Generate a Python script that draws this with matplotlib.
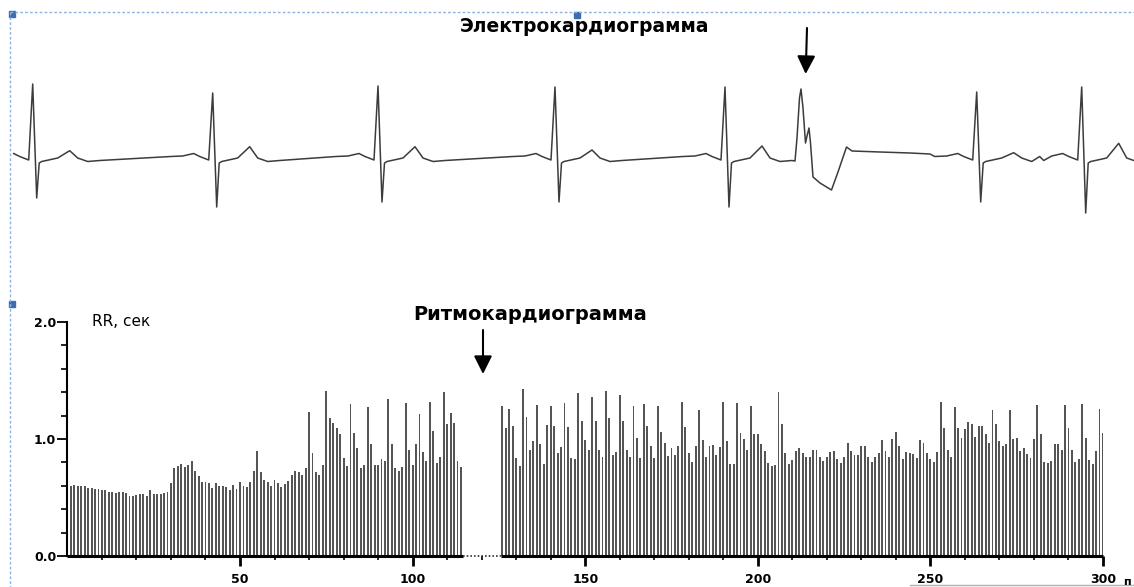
"""
ECG strip with an ectopic beat and the RR-interval rhythmogram below
"""
import numpy as np
import matplotlib
matplotlib.use('Agg')
import matplotlib.pyplot as plt
from matplotlib.lines import Line2D
from matplotlib.patches import Rectangle


### ECG trace (x in samples, amplitude in arbitrary units above baseline)
# template of one normal beat, dx relative to the R peak
beat_dx = [-42, -30, -19, -13, -4, 0, 4, 6.5, 9, 25, 37, 45, 55, 67]
beat_up = [1.5, 2, 4.5, 1.5, -2, 0, 0, -5, -3.5, 0, 0, 0, -3.5, -2.5]
R_I, S_I, T_I = 5, 6, 10          # template slots filled per beat

beat_x = [32.7, 212.7, 378, 555, 725, 976.7, 1081.7]
beat_r = [74, 65, 72, 71, 71, 66, 71]
beat_s = [-40, -49, -44, -44, -49, -44, -55]
beat_t = [7.3, 11.3, 11.3, 8, 12, 5.3, 14.7]

# ventricular extrasystole
ectopic_x = [795, 797, 799.5, 801, 803, 805.5, 807, 809, 810.5, 813, 820,
             831.5, 838, 846.5, 852, 880, 910, 930]
ectopic_up = [-3, 20, 60, 69, 50, 15, 22, 30, 15, -19, -25,
              -32, -14, 11, 7, 6, 5, 4]

### rhythmogram, RR [s]  (beats 1..114, gap, beats 126..300)
rr_before = [
    0.60, 0.61, 0.60, 0.60, 0.60, 0.585, 0.58, 0.57, 0.57, 0.56,
    0.56, 0.55, 0.55, 0.54, 0.545, 0.55, 0.54, 0.51, 0.51, 0.525,
    0.53, 0.53, 0.51, 0.56, 0.53, 0.53, 0.53, 0.54, 0.55, 0.62,
    0.755, 0.77, 0.79, 0.76, 0.78, 0.81, 0.73, 0.68, 0.63, 0.63,
    0.62, 0.585, 0.625, 0.60, 0.60, 0.59, 0.56, 0.605, 0.57, 0.635,
    0.60, 0.59, 0.635, 0.73, 0.90, 0.715, 0.65, 0.635, 0.60, 0.65,
    0.625, 0.59, 0.615, 0.64, 0.69, 0.73, 0.72, 0.69, 0.75, 1.23,
    0.88, 0.72, 0.69, 0.775, 1.41, 1.18, 1.14, 1.09, 1.04, 0.835,
    0.77, 1.30, 1.05, 0.92, 0.75, 0.775, 1.27, 0.96, 0.78, 0.78,
    0.83, 0.81, 1.34, 0.96, 0.75, 0.73, 0.76, 1.31, 0.91, 0.775,
    0.96, 1.21, 0.89, 0.81, 1.32, 1.065, 0.795, 0.845, 1.40, 1.13,
    1.22, 1.14, 0.81, 0.76,
]
rr_after_start = 126
rr_after = [
    1.28, 1.09, 1.26, 1.11, 0.84, 0.77, 1.43, 1.19, 0.91, 0.98,
    1.29, 0.955, 0.79, 1.12, 1.28, 1.11, 0.88, 0.93, 1.31, 1.10,
    0.84, 0.83, 1.39, 1.15, 0.99, 0.91, 1.36, 1.15, 0.91, 0.845,
    1.41, 1.18, 0.86, 0.89, 1.38, 1.15, 0.91, 0.845, 1.28, 1.01,
    0.84, 1.30, 1.11, 0.94, 0.84, 1.28, 1.06, 0.965, 0.855, 0.92,
    0.86, 0.94, 1.32, 1.10, 0.88, 0.80, 0.94, 1.25, 0.995, 0.845,
    0.94, 0.95, 0.86, 0.93, 1.32, 0.98, 0.785, 0.785, 1.31, 1.05,
    1.00, 0.91, 1.28, 1.045, 1.045, 0.96, 0.90, 0.795, 0.77, 0.775,
    1.40, 1.13, 0.88, 0.785, 0.82, 0.90, 0.92, 0.88, 0.85, 0.845,
    0.91, 0.91, 0.85, 0.81, 0.845, 0.89, 0.895, 0.83, 0.795, 0.85,
    0.965, 0.90, 0.865, 0.86, 0.94, 0.94, 0.845, 0.80, 0.845, 0.88,
    0.99, 0.895, 0.85, 1.00, 1.06, 0.94, 0.83, 0.89, 0.88, 0.87,
    0.84, 0.99, 0.97, 0.88, 0.83, 0.80, 0.89, 1.32, 1.09, 0.91,
    0.845, 1.27, 1.09, 1.01, 1.085, 1.145, 1.13, 1.02, 1.11, 1.11,
    1.04, 0.97, 1.25, 1.13, 0.985, 0.94, 0.96, 1.25, 1.00, 1.01,
    0.895, 0.92, 0.87, 0.84, 1.00, 1.29, 1.045, 0.80, 0.795, 0.81,
    0.96, 0.955, 0.91, 1.29, 1.09, 0.91, 0.80, 0.83, 1.30, 1.01,
    0.82, 0.79, 0.895, 1.26, 1.05,
]


### build ecg polyline
ex, ey = list(ectopic_x), list(ectopic_up)
for x0, r, s, t in zip(beat_x, beat_r, beat_s, beat_t):
    up = list(beat_up)
    up[R_I], up[S_I], up[T_I] = r, s, t
    ex += [x0 + d for d in beat_dx]
    ey += up
order = np.argsort(ex)
ecg_x = np.array(ex)[order]
ecg_y = np.array(ey)[order]


W, H = 1134, 587
fig = plt.figure(figsize=(W / 100, H / 100), dpi=100)

def fx(px):
    return px / W

def fy(py):
    return 1 - py / H


### top: ECG
ax1 = fig.add_axes([fx(13), fy(230), fx(1121), 190 / H])
ax1.plot(ecg_x, ecg_y, color='#3c3c3c', lw=1.1)
ax1.set_xlim(13, 1134)
ax1.set_ylim(-72, 118)
ax1.axis('off')

fig.text(fx(585), fy(26), 'Электрокардиограмма', ha='center', va='center',
         fontsize=13.5, fontweight='bold')
ax1.annotate('', xy=(805.7, H - 74), xytext=(807, H - 28),
             xycoords='figure pixels', textcoords='figure pixels',
             arrowprops=dict(arrowstyle='-|>,head_length=0.5,head_width=0.25',
                             mutation_scale=22, lw=1.5, color='black',
                             shrinkA=0, shrinkB=0))


### bottom: rhythmogram
idx1 = np.arange(1, len(rr_before) + 1)
idx2 = np.arange(rr_after_start, rr_after_start + len(rr_after))
gap_lo = idx1[-1] + 0.5
gap_hi = idx2[0] - 0.5

ax2 = fig.add_axes([fx(67.4), 31 / H, fx(1103 - 67.4), (556 - 322) / H])
ax2.bar(idx1, rr_before, width=0.55, color='#555555', lw=0)
ax2.bar(idx2, rr_after, width=0.55, color='#555555', lw=0)
ax2.set_xlim(0, 300)
ax2.set_ylim(0, 2.0)

for s in ['top', 'right', 'bottom']:
    ax2.spines[s].set_visible(False)
ax2.spines['left'].set_linewidth(1.5)
ax2.hlines(0, 0, gap_lo, color='black', lw=2.2, clip_on=False)
ax2.hlines(0, gap_hi, 300, color='black', lw=2.2, clip_on=False)
ax2.hlines(0, gap_lo, gap_hi, color='#333333', lw=1.2, linestyles=(0, (1, 1.2)),
           clip_on=False)

ax2.set_xticks(np.arange(50, 301, 50))
ax2.set_xticks(np.arange(10, 300, 10), minor=True)
ax2.set_yticks([0, 1.0, 2.0])
ax2.set_yticklabels(['0.0', '1.0', '2.0'])
ax2.set_yticks(np.arange(0.2, 2.0, 0.2), minor=True)
ax2.tick_params(axis='x', which='major', length=7, width=2, pad=5, labelsize=9)
ax2.tick_params(axis='x', which='minor', length=3, width=1.2)
ax2.tick_params(axis='y', which='major', length=7, width=1.3, pad=1, labelsize=9)
ax2.tick_params(axis='y', which='minor', length=4.5, width=1.2)
plt.setp(ax2.get_xticklabels() + ax2.get_yticklabels(), fontweight='bold')

fig.text(fx(91.7), fy(321), 'RR, сек', ha='left', va='center', fontsize=11)
fig.text(fx(530), fy(314.5), 'Ритмокардиограмма', ha='center', va='center',
         fontsize=14, fontweight='bold')
fig.text(fx(1123), fy(577), 'п', ha='left', va='top', fontsize=8,
         fontweight='bold')
ax2.annotate('', xy=(483, H - 374), xytext=(483, H - 330),
             xycoords='figure pixels', textcoords='figure pixels',
             arrowprops=dict(arrowstyle='-|>,head_length=0.5,head_width=0.25',
                             mutation_scale=22, lw=1.5, color='black',
                             shrinkA=0, shrinkB=0))


### selection frame left over from the slide
sel = dict(color='#8fb3e3', lw=1.0, linestyle=(0, (2, 1.5)),
           transform=fig.transFigure)
fig.add_artist(Line2D([fx(10), fx(1134)], [fy(12), fy(12)], **sel))
fig.add_artist(Line2D([fx(10), fx(10)], [fy(12), fy(587)], **sel))
fig.add_artist(Line2D([fx(910), fx(1134)], [fy(585), fy(585)], color='#b0b0b0',
                      lw=1.0, transform=fig.transFigure))
for hx, hy in [(12, 14), (577, 15), (12, 304)]:
    fig.add_artist(Rectangle((fx(hx - 3), fy(hy + 3)), 6 / W, 6 / H,
                             color='#3f6cb0', transform=fig.transFigure))

fig.savefig('out.png', dpi=100)
